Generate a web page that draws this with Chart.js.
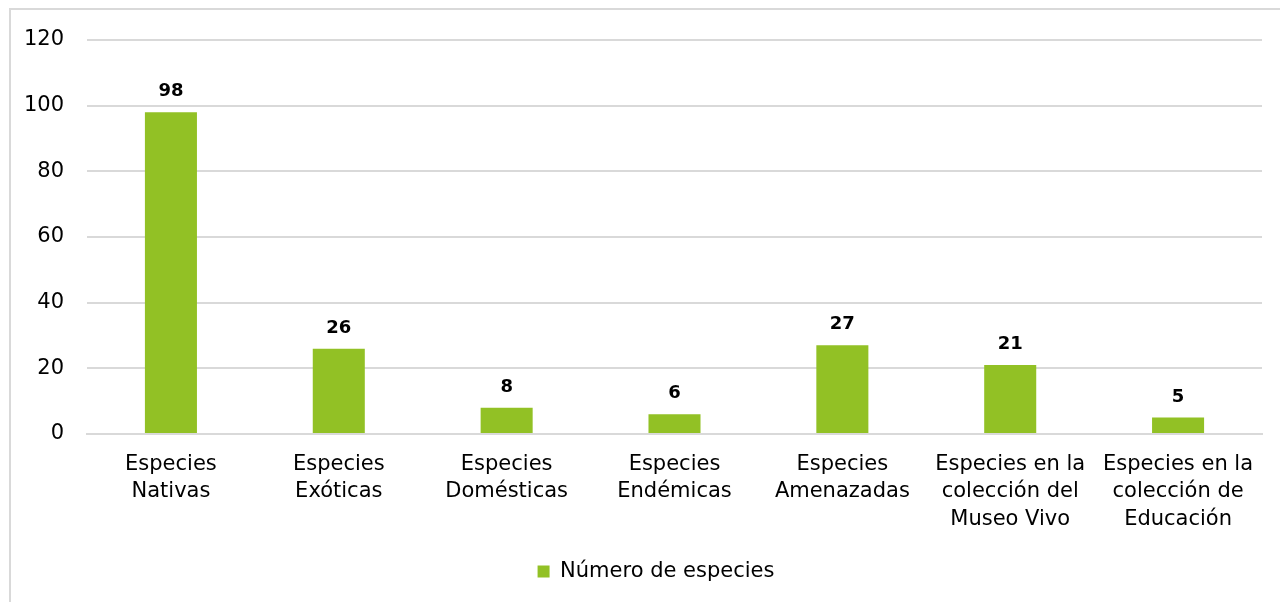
<!DOCTYPE html>
<html>
<head>
<meta charset="utf-8">
<script src="https://cdn.jsdelivr.net/npm/chart.js@4.4.1/dist/chart.umd.min.js"></script>
<style>
  html, body { margin: 0; padding: 0; background: #fff; }
  #wrap { position: relative; width: 1280px; height: 602px; overflow: hidden; }
  #frame { position: absolute; left: 9px; top: 8px; width: 1300px; height: 700px; border: 2px solid #d9d9d9; box-sizing: border-box; }
  #c { position: absolute; left: 0; top: 0; }
</style>
</head>
<body>
<div id="wrap">
  <div id="frame"></div>
  <canvas id="c" width="1280" height="602"></canvas>
</div>
<script>
const categories = [
  ["Especies", "Nativas"],
  ["Especies", "Exóticas"],
  ["Especies", "Domésticas"],
  ["Especies", "Endémicas"],
  ["Especies", "Amenazadas"],
  ["Especies en la", "colección del", "Museo Vivo"],
  ["Especies en la", "colección de", "Educación"]
];
const seriesName = "Número de especies";
const values = [98, 26, 8, 6, 27, 21, 5];
const yTicks = [0, 20, 40, 60, 80, 100, 120];

const FONT = "'DejaVu Sans', sans-serif";

const valueLabels = {
  id: 'valueLabels',
  afterDatasetsDraw(chart) {
    const ctx = chart.ctx;
    const meta = chart.getDatasetMeta(0);
    ctx.save();
    ctx.font = "bold 18px " + FONT;
    ctx.fillStyle = "#000";
    ctx.textAlign = "center";
    ctx.textBaseline = "alphabetic";
    meta.data.forEach((bar, i) => {
      ctx.fillText(String(values[i]), bar.x, bar.y - 16);
    });
    ctx.restore();
  }
};

const legendShift = {
  id: 'legendShift',
  afterLayout(chart) {
    if (chart.legend) {
      chart.legend.left += 25;
      chart.legend.right += 25;
    }
  }
};

new Chart(document.getElementById('c'), {
  type: 'bar',
  data: {
    labels: categories,
    datasets: [{
      label: seriesName,
      data: values,
      backgroundColor: '#92c125',
      borderWidth: 0,
      barPercentage: 0.62,
      categoryPercentage: 0.5
    }]
  },
  options: {
    responsive: false,
    animation: false,
    devicePixelRatio: 1,
    layout: { padding: { left: 0, right: 18, top: 40, bottom: 10 } },
    plugins: {
      legend: {
        position: 'bottom',
        labels: {
          font: { family: FONT, size: 21 },
          color: '#000',
          boxWidth: 12,
          boxHeight: 12,
          padding: 10
        }
      },
      tooltip: { enabled: false }
    },
    scales: {
      y: {
        min: 0, max: 120,
        afterFit(scale) { scale.width = 87; },
        afterBuildTicks(scale) { scale.ticks = yTicks.map(v => ({ value: v })); },
        ticks: { font: { family: FONT, size: 21 }, color: '#000', padding: 23 },
        grid: { color: '#d9d9d9', lineWidth: 2, drawTicks: false },
        border: { display: false }
      },
      x: {
        afterFit(scale) { scale.height = 117; },
        ticks: { font: { family: FONT, size: 21, lineHeight: 1.3 }, color: '#000', padding: 17, maxRotation: 0, autoSkip: false },
        grid: { display: false, drawTicks: false },
        border: { display: true, color: '#d9d9d9', width: 2 }
      }
    }
  },
  plugins: [valueLabels, legendShift]
});
</script>
</body>
</html>
